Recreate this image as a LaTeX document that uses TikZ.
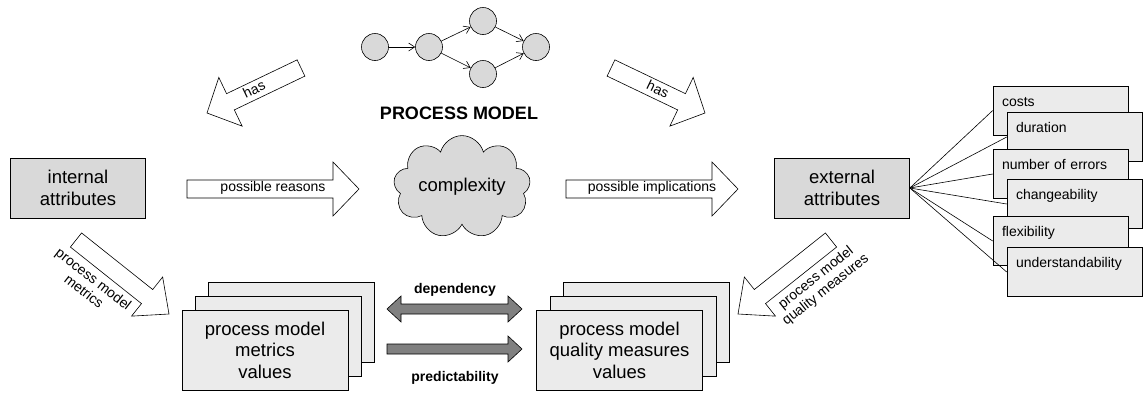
\documentclass[tikz,border=0pt]{standalone}
\usepackage{fontspec}
\setmainfont{Liberation Sans}
\usetikzlibrary{calc,shapes.symbols,arrows.meta}

\definecolor{boxgray}{gray}{0.85}
\definecolor{sheetgray}{gray}{0.92}
\definecolor{darkarrow}{gray}{0.5}

\tikzset{
  attrbox/.style={draw, fill=boxgray, minimum width=135pt, minimum height=60pt, align=center, font=\fontsize{18.5}{21.5}\selectfont},
  sheet/.style={draw, fill=sheetgray, minimum width=166pt, minimum height=80pt, align=center, font=\fontsize{18.5}{21.5}\selectfont},
  measure/.style={draw, fill=sheetgray, minimum width=135pt, text width=117pt, align=left, inner xsep=9pt, inner ysep=5pt, text height=15pt, text depth=24pt, font=\fontsize{14}{16}\selectfont},
  state/.style={circle, draw, fill=boxgray, minimum size=27pt, inner sep=0pt},
  hollow/.style={draw, fill=white},
  darkblock/.style={draw, fill=darkarrow},
  lbl/.style={font=\fontsize{14}{15.5}\selectfont, align=center, inner sep=0pt},
  boldlbl/.style={font=\bfseries\fontsize{14}{16}\selectfont, inner sep=0pt},
}

% block arrow: [style]{from}{to}{shaft}{head width}{head length}
\newcommand{\blockarrow}[6][]{%
  \coordinate (hb) at ($(#3)!#6!(#2)$);
  \draw[#1] ($(#2)!#4/2!90:(#3)$) -- ($(hb)!#4/2!90:(#3)$)
    -- ($(hb)!#5/2!90:(#3)$) -- (#3)
    -- ($(hb)!#5/2!-90:(#3)$) -- ($(hb)!#4/2!-90:(#3)$)
    -- ($(#2)!#4/2!-90:(#3)$) -- cycle;}
\newcommand{\dblarrow}[6][]{%
  \coordinate (ha) at ($(#2)!#6!(#3)$);
  \coordinate (hb) at ($(#3)!#6!(#2)$);
  \draw[#1] (#2) -- ($(ha)!#5/2!90:(#3)$) -- ($(ha)!#4/2!90:(#3)$)
    -- ($(hb)!#4/2!90:(#3)$) -- ($(hb)!#5/2!90:(#3)$) -- (#3)
    -- ($(hb)!#5/2!-90:(#3)$) -- ($(hb)!#4/2!-90:(#3)$)
    -- ($(ha)!#4/2!-90:(#3)$) -- ($(ha)!#5/2!-90:(#3)$) -- cycle;}

\begin{document}
\begin{tikzpicture}[x=1pt, y=-1pt, line width=0.6pt, >={Straight Barb[length=6pt,width=8pt]}]
    \useasboundingbox (0,0) rectangle (1143,394);

    %Process model
    \node[state] (s1) at (375,47) {};
    \node[state] (s2) at (429,47) {};
    \node[state] (s3) at (483,21) {};
    \node[state] (s4) at (483,74) {};
    \node[state] (s5) at (536,47) {};
    \draw[->] (s1) -- (s2);
    \draw[->] (s2) -- (s3);
    \draw[->] (s2) -- (s4);
    \draw[->] (s3) -- (s5);
    \draw[->] (s4) -- (s5);
    \node[font=\bfseries\fontsize{18}{21}\selectfont] (pm) at (459,113) {PROCESS MODEL};

    %Complexity
    \node[cloud, draw, fill=boxgray, cloud puffs=9, aspect=1.65, minimum width=137pt, minimum height=83pt, inner sep=0pt, font=\fontsize{18.5}{21.5}\selectfont] (cx) at (462,187) {complexity};

    %Attributes
    \node[attrbox] (ia) at (78,188) {internal\\attributes};
    \node[attrbox] (ea) at (842,188) {external\\attributes};

    %has
    \coordinate (hasL1) at (301,68);
    \coordinate (hasL2) at (207,113);
    \blockarrow[hollow]{hasL1}{hasL2}{18pt}{54pt}{26pt}
    \node[lbl, rotate=25.6] (hasl) at (254,89) {has};
    \coordinate (hasR1) at (611,68);
    \coordinate (hasR2) at (705,113);
    \blockarrow[hollow]{hasR1}{hasR2}{18pt}{54pt}{26pt}
    \node[lbl, rotate=-25.6] (hasr) at (658,89) {has};

    %Reasons and implications
    \coordinate (rea1) at (187,189);
    \coordinate (rea2) at (359,189);
    \blockarrow[hollow]{rea1}{rea2}{18pt}{54pt}{26pt}
    \node[lbl] (reasons) at (273,188) {possible reasons};
    \coordinate (imp1) at (566,189);
    \coordinate (imp2) at (738,189);
    \blockarrow[hollow]{imp1}{imp2}{18pt}{54pt}{26pt}
    \node[lbl] (impl) at (652,188) {possible implications};

    %Metrics and quality measures
    \coordinate (met1) at (76,240);
    \coordinate (met2) at (169,314);
    \blockarrow[hollow]{met1}{met2}{18pt}{50pt}{28pt}
    \node[lbl, rotate=-37.8] (pmm) at (89,285) {process model\\metrics};
    \coordinate (qm1) at (831,240);
    \coordinate (qm2) at (738,314);
    \blockarrow[hollow]{qm1}{qm2}{18pt}{50pt}{28pt}
    \node[lbl, rotate=38.5] (pmq) at (821,284) {process model\\quality measures};

    %Values
    \node[sheet] (mback) at (291.5,322) {};
    \node[sheet] (mmid) at (278,336) {};
    \node[sheet] (mval) at (265,350) {process model\\metrics\\values};
    \node[sheet] (qback) at (646.5,322) {};
    \node[sheet] (qmid) at (633,336) {};
    \node[sheet] (qval) at (619.5,350) {process model\\quality measures\\values};

    %Dependency and predictability
    \coordinate (dep1) at (387,309);
    \coordinate (dep2) at (522,309);
    \dblarrow[darkblock]{dep1}{dep2}{10pt}{26pt}{14pt}
    \node[boldlbl] (dep) at (455,290) {dependency};
    \coordinate (pred1) at (387,349);
    \coordinate (pred2) at (522,349);
    \blockarrow[darkblock]{pred1}{pred2}{10pt}{26pt}{14pt}
    \node[boldlbl] (pred) at (455,378) {predictability};

    %Quality attributes
    \node[measure] (costs) at (1060.5,110.5) {costs};
    \node[measure] (dur) at (1074.5,137) {duration};
    \node[measure] (err) at (1060.5,174) {number of errors};
    \node[measure] (chg) at (1074.5,204) {changeability};
    \node[measure] (flex) at (1060.5,241) {flexibility};
    \node[measure] (und) at (1074.5,272) {understandability};
    \draw (ea.east) -- (costs.west);
    \draw (ea.east) -- (dur.west);
    \draw (ea.east) -- (err.west);
    \draw (ea.east) -- (chg.west);
    \draw (ea.east) -- (flex.west);
    \draw (ea.east) -- (und.west);
\end{tikzpicture}
\end{document}
